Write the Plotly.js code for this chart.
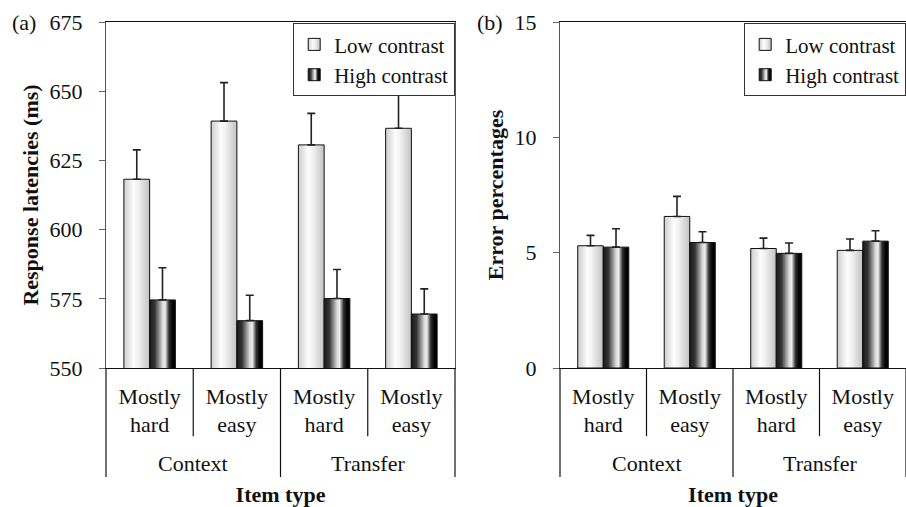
<!DOCTYPE html>
<html>
<head>
<meta charset="utf-8">
<script src="https://cdn.plot.ly/plotly-3.0.1.min.js"></script>
<style>
html,body{margin:0;padding:0;background:#fff;}
#chart{width:906px;height:507px;}
</style>
</head>
<body>
<div id="chart"></div>
<script>
// ---------- data ----------
const outerGroups = ["Context", "Context", "Transfer", "Transfer"];
const innerLabels = ["Mostly hard", "Mostly easy", "Mostly hard", "Mostly easy"];
const seriesNames = ["Low contrast", "High contrast"];

// (a) Response latencies (ms)
const rtLow      = [618.2, 639.2, 630.6, 636.6];
const rtLowErr   = [10.6, 13.9, 11.4, 13.0];
const rtHigh     = [574.6, 567.1, 575.1, 569.5];
const rtHighErr  = [11.6, 9.2, 10.5, 9.1];

// (b) Error percentages
const errLow     = [5.30, 6.57, 5.18, 5.10];
const errLowErr  = [0.45, 0.87, 0.45, 0.49];
const errHigh    = [5.24, 5.44, 4.97, 5.50];
const errHighErr = [0.80, 0.47, 0.45, 0.45];

const noLowerErr = [0, 0, 0, 0];
const rtTicks  = [550, 575, 600, 625, 650, 675];
const errTicks = [0, 5, 10, 15];

// ---------- build ----------
const FONT = "Liberation Serif";
const xKeys = outerGroups.map((g, i) => g + " | " + innerLabels[i]);
const xText = innerLabels.map(s => s.replace(" ", "<br>"));

function barTrace(name, vals, errs, xa, ya, legendId, showLegend) {
  const low = name === seriesNames[0];
  return {
    type: "bar", name: name, x: xKeys, y: vals,
    xaxis: xa, yaxis: ya, legend: legendId, showlegend: showLegend,
    marker: { color: low ? "#e4e4e4" : "#2a2a2a", line: { color: "#111", width: 1 } },
    error_y: { type: "data", symmetric: false, array: errs, arrayminus: noLowerErr,
               color: "#222", thickness: 1.6, width: 4 }
  };
}

const traces = [
  barTrace(seriesNames[0], rtLow, rtLowErr, "x", "y", "legend", true),
  barTrace(seriesNames[1], rtHigh, rtHighErr, "x", "y", "legend", true),
  barTrace(seriesNames[0], errLow, errLowErr, "x2", "y2", "legend2", true),
  barTrace(seriesNames[1], errHigh, errHighErr, "x2", "y2", "legend2", true)
];

const n = xKeys.length;
const shapes = [];
const annotations = [];
["x", "x2"].forEach(xa => {
  const ya = xa === "x" ? "y" : "y2";
  for (let i = 0; i <= n; i++) {
    const outer = (i === 0 || i === n || outerGroups[i] !== outerGroups[i - 1]);
    shapes.push({
      type: "line", xref: xa + " domain", yref: ya + " domain",
      x0: i / n, x1: i / n, y0: 0, y1: outer ? -0.315 : -0.197,
      line: { color: "#111", width: 1.2 }
    });
  }
  const groups = [...new Set(outerGroups)];
  groups.forEach(g => {
    const idx = outerGroups.map((v, i) => v === g ? i : -1).filter(i => i >= 0);
    const mid = idx.reduce((a, b) => a + b, 0) / idx.length;
    annotations.push({
      xref: xa, yref: ya + " domain", x: mid, y: -0.277, yanchor: "middle",
      text: g, showarrow: false, font: { family: FONT, size: 22, color: "#111" }
    });
  });
});
annotations.push({ xref: "paper", yref: "paper", x: -0.12, y: 1.0, xanchor: "left", yanchor: "middle",
  text: "(a)", showarrow: false, font: { family: FONT, size: 22, color: "#111" } });
annotations.push({ xref: "paper", yref: "paper", x: 0.4615, y: 1.0, xanchor: "left", yanchor: "middle",
  text: "(b)", showarrow: false, font: { family: FONT, size: 22, color: "#111" } });

function xAxis(domain, anchor) {
  return {
    domain: domain, anchor: anchor, type: "category",
    tickmode: "array", tickvals: xKeys, ticktext: xText,
    ticks: "outside", ticklen: 8, tickcolor: "rgba(0,0,0,0)",
    showline: true, linecolor: "#111", linewidth: 1.2, mirror: true,
    showgrid: false, zeroline: false,
    tickfont: { family: FONT, size: 22, color: "#111" },
    title: { text: "<b>Item type</b>", font: { family: FONT, size: 22, color: "#111" }, standoff: 52 }
  };
}
function yAxis(range, ticks, title, anchor) {
  return {
    anchor: anchor, range: range, tickmode: "array", tickvals: ticks,
    ticks: "outside", ticklen: 6, tickcolor: "#666", ticklabelstandoff: 12,
    showline: true, linecolor: "#555", linewidth: 1.2, mirror: true,
    showgrid: false, zeroline: false,
    tickfont: { family: FONT, size: 22, color: "#111" },
    title: { text: "<b>" + title + "</b>", font: { family: FONT, size: 22, color: "#111" }, standoff: 4 }
  };
}

const legendBase = {
  yanchor: "top", xanchor: "right", y: 0.997,
  bgcolor: "#fff", bordercolor: "#333", borderwidth: 1.2,
  font: { family: FONT, size: 21, color: "#111" }, itemwidth: 30, tracegroupgap: 0
};

const layout = {
  width: 906, height: 507,
  margin: { l: 106, r: 0, t: 22, b: 139 },
  paper_bgcolor: "#fff", plot_bgcolor: "#fff",
  barmode: "group", bargap: 0.41, bargroupgap: 0,
  xaxis: xAxis([0, 0.43625], "y"),
  yaxis: yAxis([550, 675], rtTicks, "Response latencies (ms)", "x"),
  xaxis2: xAxis([0.5675, 1], "y2"),
  yaxis2: yAxis([0, 15], errTicks, "Error percentages", "x2"),
  legend: Object.assign({}, legendBase, { x: 0.43625 }),
  legend2: Object.assign({}, legendBase, { x: 1 }),
  shapes: shapes, annotations: annotations,
  font: { family: FONT, color: "#111" }
};

function applyGradients(gd) {
  const ns = "http://www.w3.org/2000/svg";
  const defs = gd.querySelector("defs");
  if (!defs) return;
  function mk(id, stops) {
    const g = document.createElementNS(ns, "linearGradient");
    g.setAttribute("id", id);
    g.setAttribute("x1", "0"); g.setAttribute("x2", "1");
    g.setAttribute("y1", "0"); g.setAttribute("y2", "0");
    stops.forEach(([o, c]) => {
      const s = document.createElementNS(ns, "stop");
      s.setAttribute("offset", o); s.setAttribute("stop-color", c);
      g.appendChild(s);
    });
    defs.appendChild(g);
  }
  mk("gradLow", [[0, "#cdcdcd"], [0.38, "#fdfdfd"], [0.55, "#f2f2f2"], [1, "#c2c2c2"]]);
  mk("gradHigh", [[0, "#1a1a1a"], [0.2, "#333"], [0.5, "#d8d8d8"], [0.6, "#eeeeee"], [0.75, "#333"], [0.88, "#050505"], [1, "#000"]]);
  function nameOf(el) {
    const d = el.__data__;
    if (!d) return null;
    if (d.trace) return d.trace.name;
    if (d[0] && d[0].trace) return d[0].trace.name;
    if (d[0] && d[0][0] && d[0][0].trace) return d[0][0].trace.name;
    return null;
  }
  gd.querySelectorAll(".barlayer .trace").forEach(t => {
    const nm = nameOf(t);
    const id = nm === seriesNames[0] ? "gradLow" : "gradHigh";
    t.querySelectorAll(".point path").forEach(p => { p.style.fill = "url(#" + id + ")"; });
  });
  gd.querySelectorAll(".infolayer .traces").forEach(t => {
    const nm = nameOf(t);
    const id = nm === seriesNames[0] ? "gradLow" : "gradHigh";
    t.querySelectorAll(".legendpoints path").forEach(p => { p.style.fill = "url(#" + id + ")"; });
  });
}

Plotly.newPlot("chart", traces, layout, { staticPlot: true, displayModeBar: false })
  .then(gd => applyGradients(gd));
</script>
</body>
</html>
